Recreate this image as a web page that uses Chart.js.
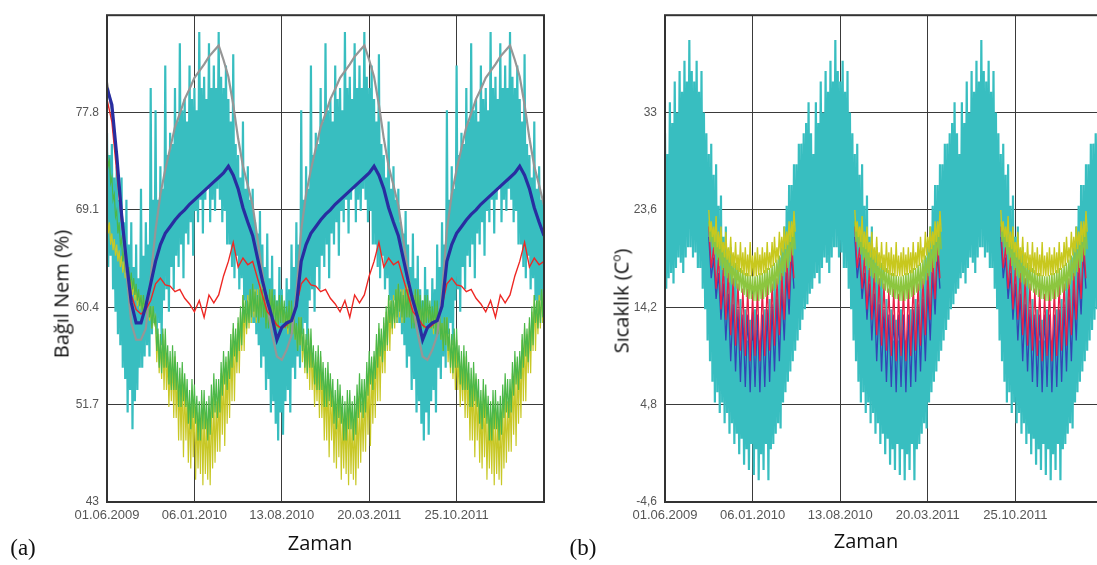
<!DOCTYPE html>
<html>
<head>
<meta charset="utf-8">
<script src="https://cdn.jsdelivr.net/npm/chart.js@4.4.1/dist/chart.umd.min.js"></script>
<style>
	body { margin: 0; width: 1097px; height: 565px; overflow: hidden; background: #fff; position: relative; font-family: "Open Sans", sans-serif; }
	canvas { position: absolute; top: 0; }
	#humChart { left: 0; }
	#tempChart { left: 560px; }
	.lbl { position: absolute; white-space: nowrap; color: #111; font-size: 20px; }
	.rot { transform: translate(-50%, -50%) rotate(-90deg); }
	.ctr { transform: translate(-50%, -50%); }
	.panel { font-family: "Liberation Serif", serif; font-size: 23px; }
	sup { font-size: 12px; }
</style>
</head>
<body>
<canvas id="humChart" width="560" height="565"></canvas>
<canvas id="tempChart" width="560" height="565"></canvas>
<div class="lbl rot" style="left:61px; top:294px">Bağıl Nem (%)</div>
<div class="lbl ctr" style="left:320px; top:542px">Zaman</div>
<div class="lbl ctr panel" style="left:23px; top:548px">(a)</div>
<div class="lbl rot" style="left:621px; top:301px">Sıcaklık (C<sup>o</sup>)</div>
<div class="lbl ctr" style="left:866px; top:540px">Zaman</div>
<div class="lbl ctr panel" style="left:583px; top:548px">(b)</div>
<script>
// x axis: days since 01.06.2009
const xTicks = [0, 219, 438, 657, 876, 1095];
const xLabels = ["01.06.2009", "06.01.2010", "13.08.2010", "20.03.2011", "25.10.2011", ""];

const humTicks = [43, 51.7, 60.4, 69.1, 77.8, 86.5];
const humLabels = ["43", "51.7", "60.4", "69.1", "77.8", ""];
const tempTicks = [-4.6, 4.8, 14.2, 23.6, 33, 42.4];
const tempLabels = ["-4,6", "4,8", "14,2", "23,6", "33", ""];

// yearly readings (June -> May), the three years repeat.
// smooth lines: 30 readings a year, noisy ones: 60 readings a year (high / low)

// (a) relative humidity
const humGrayYear = [69.5, 66.5, 63.5, 60.5, 58, 56, 55.7, 56.6, 57.9, 61.7, 67.3, 70.5, 72.7, 74.6, 76.5, 77.7, 79, 79.9, 80.9, 81.5, 82.1, 82.8, 83.3, 83.8, 82.5, 81, 78.5, 75.5, 73, 71.3];
const humGrayStart = [80.5, 78, 73.5, 69, 63.5, 59, 57.5, 57.5, 58.5, 63];
const humBlueYear = [66.8, 64.8, 62.8, 61, 59.5, 57.5, 58.6, 59, 59.2, 60.5, 64.5, 66, 67, 67.6, 68.2, 68.7, 69.1, 69.6, 70, 70.4, 70.8, 71.2, 71.6, 72, 72.4, 73, 72.2, 71, 69.3, 68];
const humBlueStart = [80, 78.5, 74, 68.7, 64.5, 60.8, 59, 59, 60.5, 62.5];
const humRedYear = [64.5, 63, 61.5, 60, 59.5, 58.8, 58.5, 58.8, 59.3, 60.5, 62.5, 63, 62.4, 62.3, 61.8, 62, 61.2, 60.7, 60, 61, 59.5, 61.5, 60.8, 61.5, 63.2, 64.5, 66.2, 64, 64.8, 64.2];
const humRedStart = [79, 77, 72.5, 68, 64.5, 61.5, 60.2, 59.8, 60.2, 61];

const humCyanHiYear = [
	71, 68, 67, 69, 66, 64, 67, 63, 65, 62,
	61, 64, 62, 60, 63, 62, 66, 64, 68, 66,
	78, 70, 73, 71, 82, 74, 76, 75, 80, 77,
	84, 78, 79, 77, 82, 79, 80, 78, 85, 80,
	81, 79, 84, 80, 82, 80, 85, 81, 80, 82,
	79, 77, 83, 75, 74, 72, 77, 71, 73, 70];
const humCyanLoYear = [
	59, 58, 57, 55, 56, 53, 54, 51, 52, 50,
	48.5, 51, 49, 52, 53, 51, 55, 54, 56, 55,
	58, 59, 57, 61, 62, 60, 64, 62, 65, 64,
	66, 63, 67, 66, 68, 65, 69, 68, 70, 67,
	70, 71, 68, 70, 69, 71, 70, 68, 69, 66,
	66, 64, 63, 65, 62, 63, 61, 60, 61, 59];
const humCyanHiStart = [76, 74, 75, 72, 73, 70, 72, 68, 70, 66, 68, 64, 66, 63, 71, 65, 68, 66, 80, 70];
const humCyanLoStart = [64, 65, 62, 60, 58, 57, 55, 54, 51, 53, 49.5, 52, 53, 55, 55, 56, 57, 56, 58, 59];

const humGreenHiYear = [
	62.5, 61.8, 61.5, 62, 62, 61.5, 61.5, 62, 62, 61.5,
	61, 61.5, 61.5, 61, 60.5, 61, 61, 60, 59, 59.5,
	59.5, 58.5, 58, 58.5, 58.5, 57, 56.5, 57, 56.5, 55.5,
	55, 55.5, 54.5, 54, 53, 54, 53.5, 52.5, 52, 53,
	53, 52, 52.5, 53.5, 54.5, 54, 54, 55.5, 56.5, 56,
	56.5, 58, 59, 58.5, 59.5, 60.5, 61.5, 61, 61, 62];
const humGreenLoYear = [
	60, 59.5, 59, 59.5, 59.5, 58.5, 58.5, 59, 59.5, 58.5,
	58.5, 59, 59, 58.5, 58.5, 58, 58, 57.5, 56.5, 57,
	56.5, 55, 54.5, 55, 55, 53.5, 53, 53, 53, 51.5,
	51.5, 52, 51.5, 50, 49.5, 50.5, 50, 48.5, 48.5, 49.5,
	49.5, 48.5, 49, 50.5, 51, 50.5, 51, 52.5, 53.5, 53,
	54, 55, 56, 55.5, 56.5, 57, 59, 58.5, 59, 59.5];
const humGreenHiStart = [75, 73.5, 72, 70.5, 69, 68, 66.5, 65.5, 64.5, 64, 63.5, 63, 62.5, 62, 61.5, 61.5, 61, 61, 60.5, 60.5];
const humGreenLoStart = [73, 71.5, 70, 68.5, 67, 66, 64.5, 63.5, 63, 62.5, 62, 61.5, 61, 60.5, 60, 60, 59.5, 59.5, 58.5, 59];

const humYellowHiYear = [
	62.5, 62, 62, 62.5, 62.5, 61.5, 61.5, 62, 62, 61,
	60.5, 61, 61, 60.5, 60, 60.5, 60.5, 59.5, 59, 59.5,
	59.5, 58, 57.5, 58, 57.5, 56, 55.5, 56, 56, 54.5,
	54, 54.5, 54, 52.5, 52, 53, 52.5, 51, 51, 52,
	51.5, 50.5, 51, 52, 52.5, 52, 53, 54.5, 55, 55.5,
	56, 57.5, 58.5, 58, 59, 60, 61.5, 61, 61.5, 62];
const humYellowLoYear = [
	59.5, 59, 59, 59.5, 59.5, 59, 59, 59.5, 59.5, 58.5,
	58.5, 59, 59, 58.5, 58, 58.5, 58, 57.5, 56.5, 57,
	55.5, 54.5, 54, 53, 53, 51.5, 52, 50.5, 50.5, 48.5,
	48.5, 47, 48.5, 46.5, 46, 47, 45, 46, 45.5, 44.5,
	45.5, 45, 44.5, 46, 46.5, 47.5, 47.5, 49, 48, 50,
	50.5, 52, 52, 54.5, 54.5, 56.5, 56.5, 58, 58.5, 59];
const humYellowHiStart = [69, 68, 67, 66.5, 66, 65.5, 65, 64.5, 64, 63.5, 63, 62.5, 62, 61.8, 61.5, 61.2, 61, 60.8, 60.5, 60.5];
const humYellowLoStart = [67, 66, 65.5, 65, 64.5, 64, 63.5, 63, 62.5, 62, 61.5, 61, 60.5, 60.2, 60, 59.8, 59.5, 59.2, 58.5, 59];

// (b) temperature
const tempCyanHiYear = [
	31, 29, 34, 32, 36, 33, 37, 35, 38, 36,
	40, 37, 36, 38, 35, 37, 33, 31, 29, 30,
	27, 28, 24, 25, 21, 22, 19, 20, 17, 18,
	13, 15, 12, 14, 11, 13, 11, 14, 12, 11,
	12, 14, 12, 15, 14, 17, 16, 19, 20, 22,
	24, 26, 26, 28, 28, 30, 30, 31, 32, 34];
const tempCyanLoYear = [
	16, 17, 17.5, 16.5, 18, 19, 18.5, 17.5, 19, 20,
	20, 19, 19.5, 18, 18, 16, 14, 11, 9, 7,
	5, 6, 4, 5, 3, 4, 2, 3, 1, 2,
	0, 1.5, -1, 0.5, -1.5, 1, -2, 0.5, -2.5, 0,
	-1.5, 1, -2.5, 0.5, 1, 2, 3, 2.5, 5, 6,
	7, 8, 9, 10, 11, 12, 13, 14, 14.5, 15.5];
const tempYellowHiYear = [
	null, null, null, null, null, null, null, null, null, null,
	null, null, null, null, null, null, null, null, 23.6, 22.5,
	22, 23, 21.5, 22, 20.5, 21.5, 20, 21, 19.5, 20.5,
	19.3, 20.5, 19.5, 20, 19.3, 20.5, 19.2, 19.5, 20, 19.3,
	20, 19.5, 20.5, 19.5, 20.5, 21, 20, 21.5, 21, 22,
	21.5, 22.5, 22.5, 23.5, null, null, null, null, null, null];
const tempYellowLoYear = [
	null, null, null, null, null, null, null, null, null, null,
	null, null, null, null, null, null, null, null, 21.5, 21,
	20.5, 20, 19.8, 19.5, 19, 18.8, 18.5, 18.2, 18, 17.8,
	17.6, 17.5, 17.3, 17.2, 17.2, 17.2, 17.2, 17.2, 17.3, 17.3,
	17.5, 17.5, 17.8, 18, 18.2, 18.5, 18.8, 19.2, 19.5, 19.8,
	20.2, 20.5, 21, 21.5, null, null, null, null, null, null];
const tempGreenHiYear = [
	null, null, null, null, null, null, null, null, null, null,
	null, null, null, null, null, null, null, null, 22.5, 22,
	21.5, 21, 20.8, 20.5, 20, 19.5, 19.3, 19, 18.8, 18.5,
	18.3, 18, 17.8, 17.5, 17.5, 17.3, 17.2, 17.2, 17.3, 17.5,
	17.5, 17.8, 18, 18, 18.3, 18.5, 18.8, 19.2, 19.5, 20,
	20.5, 21, 21.5, 22, null, null, null, null, null, null];
const tempGreenLoYear = [
	null, null, null, null, null, null, null, null, null, null,
	null, null, null, null, null, null, null, null, 20.5, 20,
	19.3, 18.8, 18.2, 17.8, 17.2, 17, 16.6, 16.4, 16.2, 16,
	15.8, 15.6, 15.4, 15.2, 15, 15, 14.8, 14.8, 14.8, 15,
	15, 15.2, 15.4, 15.6, 15.8, 16, 16.4, 16.8, 17.2, 17.6,
	18, 18.6, 19.2, 19.8, null, null, null, null, null, null];
const tempRedHiYear = [null, null, null, null, null, null, null, null, null, 22, 20, 19, 18, 17.5, 17, 16.5, 16, 16, 15.5, 16, 16, 16.5, 16.5, 17, 17.5, 19, 20.5, null, null, null];
const tempRedLoYear = [null, null, null, null, null, null, null, null, null, 18, 16, 14, 13, 11.5, 10.5, 10, 9.5, 9, 9.5, 9, 9.5, 10, 10.5, 11.5, 13, 15, 17, null, null, null];
const tempBlueHiYear = [null, null, null, null, null, null, null, null, null, 21, 19, 17.5, 16.5, 15.5, 14.5, 14, 13.5, 13.5, 13.5, 13.5, 13.5, 14, 14.5, 15, 16, 17.5, 19.5, null, null, null];
const tempBlueLoYear = [null, null, null, null, null, null, null, null, null, 17, 15, 13, 11, 9, 8, 7, 6.5, 6, 6.5, 6, 6.5, 7, 8, 9, 11, 13.5, 16, null, null, null];

const YEAR = 365;

function series(year, start) {
	let out = [];
	for (let i = 0; i <= year.length * 3; i++) {
		out.push(start && i < start.length ? start[i] : year[i % year.length]);
	}
	return out;
}
function line(vals, perYear) {
	let step = YEAR / perYear;
	return vals.map((v, i) => ({ x: i * step, y: v }));
}
// noisy series: alternate between the high and the low reading
function zigzag(hi, lo, perYear) {
	let step = YEAR / perYear, pts = [];
	hi.forEach((h, i) => {
		pts.push({ x: i * step, y: h });
		pts.push({ x: i * step + step / 2, y: lo[i] });
	});
	return pts;
}
function ds(data, color, width, order) {
	return { data: data, borderColor: color, borderWidth: width, order: order, fill: false, spanGaps: false };
}

const frame = {
	id: "frame",
	afterDraw(chart) {
		let a = chart.chartArea, ctx = chart.ctx;
		ctx.save();
		ctx.strokeStyle = "#333";
		ctx.lineWidth = 2;
		ctx.strokeRect(a.left, a.top, a.right - a.left, a.bottom - a.top);
		ctx.restore();
	},
};

function makeChart(id, datasets, yMin, yMax, yTicks, yLabels, yWidth, pad) {
	return new Chart(document.getElementById(id), {
		type: "line",
		data: { datasets: datasets },
		options: {
			responsive: false,
			animation: false,
			devicePixelRatio: 1,
			layout: { padding: pad },
			plugins: { legend: { display: false }, tooltip: { enabled: false } },
			elements: { point: { radius: 0 }, line: { tension: 0 } },
			scales: {
				x: {
					type: "linear",
					min: 0,
					max: 1095,
					z: 1,
					afterBuildTicks: (s) => { s.ticks = xTicks.map((v) => ({ value: v })); },
					afterFit: (s) => { s.height = 63; },
					grid: { color: "#3a3a3a", lineWidth: 1, drawTicks: false },
					border: { display: false },
					ticks: {
						autoSkip: false,
						maxRotation: 0,
						padding: 6,
						color: "#555",
						font: { family: "Liberation Sans", size: 13 },
						callback: (v, i) => xLabels[i],
					},
				},
				y: {
					min: yMin,
					max: yMax,
					z: 1,
					afterBuildTicks: (s) => { s.ticks = yTicks.map((v) => ({ value: v })); },
					afterFit: (s) => { s.width = yWidth; },
					grid: { color: "#3a3a3a", lineWidth: 1, drawTicks: false },
					border: { display: false },
					ticks: {
						autoSkip: false,
						padding: 8,
						color: "#555",
						font: { family: "Liberation Sans", size: 12 },
						callback: (v, i) => yLabels[i],
					},
				},
			},
		},
		plugins: [frame],
	});
}

const CYAN = "rgb(56,190,192)";

let humChart = makeChart("humChart", [
	ds(line(series(humBlueYear, humBlueStart), 30), "rgb(40,45,160)", 3.2, 0),
	ds(line(series(humRedYear, humRedStart), 30), "rgb(238,40,36)", 1.4, 1),
	ds(line(series(humGrayYear, humGrayStart), 30), "rgb(150,150,150)", 2.2, 2),
	ds(zigzag(series(humGreenHiYear, humGreenHiStart), series(humGreenLoYear, humGreenLoStart), 60), "rgb(76,184,72)", 1.2, 3),
	ds(zigzag(series(humYellowHiYear, humYellowHiStart), series(humYellowLoYear, humYellowLoStart), 60), "rgb(200,200,38)", 1.2, 4),
	ds(zigzag(series(humCyanHiYear, humCyanHiStart), series(humCyanLoYear, humCyanLoStart), 60), CYAN, 2.2, 5),
], 43, 86.5, humTicks, humLabels, 107, { left: 0, right: 16, top: 4, bottom: 0 });

let tempChart = makeChart("tempChart", [
	ds(zigzag(series(tempYellowHiYear), series(tempYellowLoYear), 60), "rgb(200,200,30)", 1.4, 0),
	ds(zigzag(series(tempGreenHiYear), series(tempGreenLoYear), 60), "rgb(140,198,63)", 1.4, 1),
	ds(zigzag(series(tempRedHiYear), series(tempRedLoYear), 30), "rgb(232,32,72)", 1.3, 2),
	ds(zigzag(series(tempBlueHiYear), series(tempBlueLoYear), 30), "rgb(50,70,180)", 1.3, 3),
	ds(zigzag(series(tempCyanHiYear), series(tempCyanLoYear), 60), CYAN, 2.2, 4),
], -4.6, 42.4, tempTicks, tempLabels, 105, { left: 0, right: 17, top: 9, bottom: 0 });
</script>
</body>
</html>
